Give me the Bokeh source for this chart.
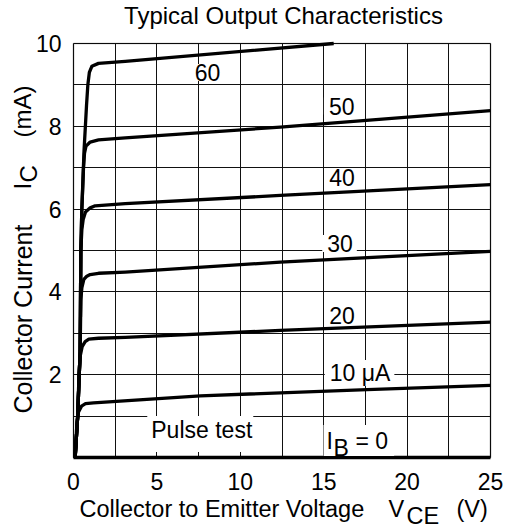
import math
from bokeh.plotting import figure
from bokeh.models import Label, FixedTicker, Range1d, BoxAnnotation, Grid
from bokeh.embed import file_html
from bokeh.resources import INLINE

# ---------------- data ----------------
vce_ib0 = [0, 25]
ic_ib0 = [0, 0]

vce_ib10 = [0.1, 0.2, 0.3, 0.48, 0.72, 1.2, 7.6, 17.6, 25]
ic_ib10 = [0, 0.8, 1.1, 1.24, 1.30, 1.32, 1.49, 1.64, 1.74]

vce_ib20 = [0.1, 0.25, 0.33, 0.4, 0.52, 0.7, 0.92, 1.5, 3.1, 12.4, 25]
ic_ib20 = [0, 1.0, 2.0, 2.45, 2.68, 2.8, 2.86, 2.88, 2.9, 3.07, 3.27]

vce_ib30 = [0.1, 0.25, 0.4, 0.44, 0.5, 0.62, 0.8, 1.0, 1.5, 3.1, 12.4, 25]
ic_ib30 = [0, 1.0, 2.58, 3.8, 4.1, 4.3, 4.38, 4.42, 4.45, 4.48, 4.72, 4.98]

vce_ib40 = [0.1, 0.25, 0.4, 0.44, 0.5, 0.58, 0.72, 1.0, 1.3, 3.1, 12.4, 25]
ic_ib40 = [0, 1.0, 2.58, 5.0, 5.5, 5.75, 5.93, 6.03, 6.08, 6.13, 6.33, 6.59]

vce_ib50 = [0.1, 0.25, 0.4, 0.44, 0.5, 0.6, 0.66, 0.75, 1.0, 1.5, 3.1, 12.4, 25]
ic_ib50 = [0, 1.0, 2.58, 5.0, 6.0, 7.0, 7.35, 7.52, 7.62, 7.67, 7.72, 7.98, 8.38]

vce_ib60 = [0.1, 0.25, 0.4, 0.44, 0.5, 0.63, 0.78, 0.86, 0.95, 1.1, 1.5, 3.1, 15.6]
ic_ib60 = [0, 1.0, 2.58, 5.0, 6.0, 7.4, 8.5, 9.0, 9.3, 9.45, 9.52, 9.57, 10.0]

x_tick_values = [0, 5, 10, 15, 20, 25]
y_tick_values = [2, 4, 6, 8, 10]
x_grid_values = [0, 2.5, 5, 7.5, 10, 12.5, 15, 17.5, 20, 22.5, 25]
y_grid_values = [0, 1, 2, 3, 4, 5, 6, 7, 8, 9, 10]

curve_labels = ["60", "50", "40", "30", "20", "10 \u03bcA"]
curve_label_v = [8.0, 16.05, 16.07, 15.95, 16.07, 17.15]
curve_label_i = [9.3, 8.49, 6.77, 5.17, 3.44, 2.04]

# ---------------- layout ----------------
W, H = 515, 530
# chart box inside the canvas (pixels)
BL, BR, BT, BB = 73, 490, 43, 457
X0, X1, Y0, Y1 = 0.0, 25.0, 0.0, 10.0
kx = (X1 - X0) / (BR - BL)
ky = (Y1 - Y0) / (BB - BT)
FONT = "Liberation Sans"

p = figure(width=W, height=H, output_backend="svg", toolbar_location=None,
           x_range=Range1d(X0 - BL * kx, X1 + (W - BR) * kx),
           y_range=Range1d(Y0 - (H - BB) * ky, Y1 + BT * ky),
           min_border=0)
p.background_fill_color = "white"
p.border_fill_color = "white"
p.outline_line_color = None

# grid restricted to the chart box
has_cross = "cross_bounds" in Grid.properties()
for g, tv, b, cb in ((p.xgrid, x_grid_values, (X0, X1), (Y0, Y1)),
                     (p.ygrid, y_grid_values, (Y0, Y1), (X0, X1))):
    g.ticker = FixedTicker(ticks=tv)
    g.bounds = b
    g.grid_line_color = "#111111"
    g.grid_line_width = 1
    g.grid_line_alpha = 1
    if has_cross:
        g.cross_bounds = cb
    else:
        g.visible = False
if not has_cross:
    p.segment(x0=x_grid_values, y0=[Y0] * len(x_grid_values), x1=x_grid_values,
              y1=[Y1] * len(x_grid_values), line_color="#111111", line_width=1)
    p.segment(x0=[X0] * len(y_grid_values), y0=y_grid_values, x1=[X1] * len(y_grid_values),
              y1=y_grid_values, line_color="#111111", line_width=1)

p.xaxis.ticker = FixedTicker(ticks=x_tick_values)
p.yaxis.ticker = FixedTicker(ticks=y_tick_values)
p.xaxis.fixed_location = Y0
p.yaxis.fixed_location = X0
p.xaxis.bounds = (X0, X1)
p.yaxis.bounds = (Y0, Y1)
for ax in (p.xaxis, p.yaxis):
    ax.major_tick_out = 0
    ax.major_tick_in = 0
    ax.minor_tick_out = 0
    ax.minor_tick_in = 0
    ax.axis_line_color = None
    ax.major_label_text_font = FONT
    ax.major_label_text_font_size = "23px"
    ax.major_label_text_color = "black"
p.xaxis.major_label_standoff = 15
p.yaxis.major_label_standoff = 12

# chart border
p.add_layout(BoxAnnotation(left=X0, right=X1, bottom=Y0, top=Y1, fill_alpha=0,
                           line_color="black", line_width=1.7, level="underlay"))

series = [(vce_ib0, ic_ib0), (vce_ib10, ic_ib10), (vce_ib20, ic_ib20), (vce_ib30, ic_ib30),
          (vce_ib40, ic_ib40), (vce_ib50, ic_ib50), (vce_ib60, ic_ib60)]
for xs, ys in series:
    p.line(xs, ys, line_color="black", line_width=3.3, line_join="round", line_cap="butt")

# curve labels (data coordinates) with white boxes
for t, v, i in zip(curve_labels, curve_label_v, curve_label_i):
    p.add_layout(Label(x=v, y=i, text=t, text_font=FONT, text_font_size="23px",
                       text_color="black", text_align="center", text_baseline="middle",
                       background_fill_color="white", background_fill_alpha=1.0,
                       padding=dict(left=5, right=4, top=0, bottom=0)))

p.add_layout(Label(x=7.6, y=0.57, text="Pulse test", text_font=FONT, text_font_size="23px",
                   text_color="black", text_align="center", text_baseline="middle",
                   background_fill_color="white", background_fill_alpha=1.0,
                   padding=dict(left=4, right=1, top=1, bottom=9)))


def txt(X, Y, s, size="24px", align="left", baseline="alphabetic", angle=0.0, bg=None, pad=0):
    kw = {}
    if bg:
        kw = dict(background_fill_color=bg, background_fill_alpha=1.0, padding=pad)
    p.add_layout(Label(x=X, y=H - Y, x_units="screen", y_units="screen", text=s,
                       text_font=FONT, text_font_size=size, text_color="black",
                       text_align=align, text_baseline=baseline, angle=angle, **kw))


# I_B = 0  (white box carried by the "= 0" label, drawn first)
txt(323, 440, "= 0", size="23px", bg="white", pad=dict(left=32, right=6, top=3, bottom=2))
txt(326, 440, "I", size="23px")
txt(333, 447, "B", size="23px")

# title
txt(283, 15, "Typical Output Characteristics", align="center")

# x axis title
txt(79, 508, "Collector to Emitter Voltage", size="23.5px")
txt(388, 508, "V", size="23.5px")
txt(406, 515, "CE", size="23.5px")
txt(456, 508, "(V)", size="23.5px")

# y axis title (rotated)
up = math.pi / 2
txt(22, 413, "Collector Current", size="25px", angle=up)
txt(22, 189, "I", angle=up)
txt(28, 182, "C", angle=up)
txt(22, 137, "(mA)", angle=up)

open("out.html", "w").write(file_html(p, INLINE))
